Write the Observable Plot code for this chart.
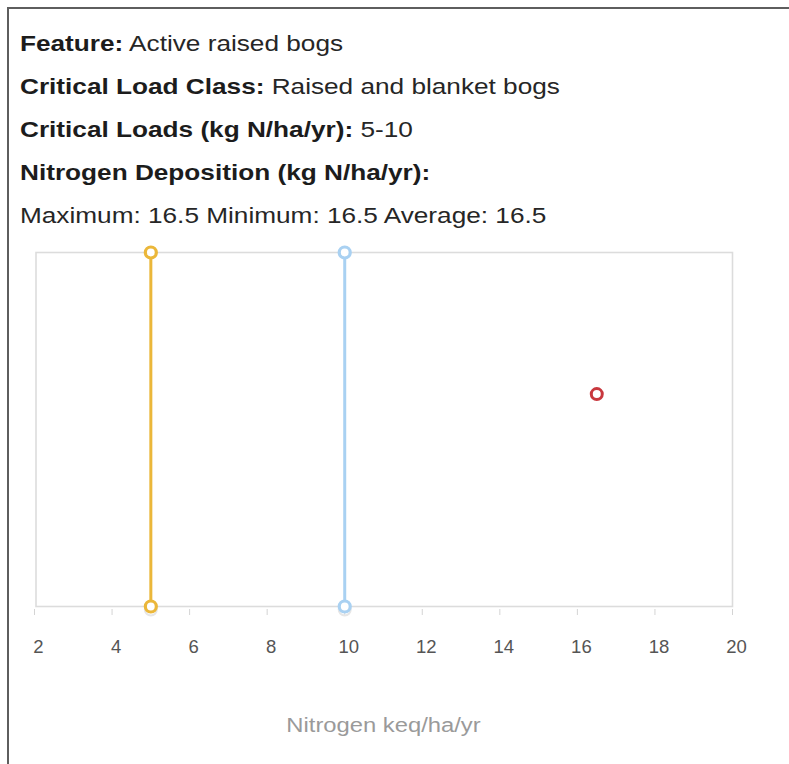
<!DOCTYPE html>
<html>
<head>
<meta charset="utf-8">
<script src="https://cdn.jsdelivr.net/npm/d3@7"></script>
<script src="https://cdn.jsdelivr.net/npm/@observablehq/plot@0.6"></script>
<style>
  html, body { margin: 0; padding: 0; background: #fff; overflow: hidden; width: 789px; height: 764px; }
  #frame { position: absolute; left: 7px; top: 7px; width: 900px; height: 900px; border: 2px solid #5e5e5e; box-sizing: border-box; }
  #info { position: absolute; left: 20px; top: 22px; font-family: "Liberation Sans", Arial, sans-serif; font-size: 22px; line-height: 43px; color: #262626; transform: scaleX(1.19); transform-origin: 0 0; white-space: nowrap; }
  #info b { color: #1c1c1c; }
  #chart { position: absolute; left: 0; top: 240px; }
</style>
</head>
<body>
<div id="frame"></div>
<div id="info"></div>
<div id="chart"></div>
<script>
// ---- data ----
const featureName = "Active raised bogs";
const loadClass = "Raised and blanket bogs";
const loadRange = "5-10";
const depositionStats = ["Maximum: 16.5", "Minimum: 16.5", "Average: 16.5"];
const criticalLoadNames = ["Minimum critical load", "Maximum critical load"];
const criticalLoads = [5, 10];
const depositionValues = [16.5];
const depositionLevel = [0.6];        // vertical placement of the deposition point (0–1)
const xTicks = [2, 4, 6, 8, 10, 12, 14, 16, 18, 20];
const xLabel = "Nitrogen keq/ha/yr";

// ---- header ----
document.getElementById("info").innerHTML =
  `<div><b>Feature:</b> ${featureName}</div>` +
  `<div><b>Critical Load Class:</b> ${loadClass}</div>` +
  `<div><b>Critical Loads (kg N/ha/yr):</b> ${loadRange}</div>` +
  `<div><b>Nitrogen Deposition (kg N/ha/yr):</b></div>` +
  `<div>${depositionStats.join(" ")}</div>`;

// ---- tables ----
const loads = criticalLoads.map((v, i) => ({name: criticalLoadNames[i], x: v}));
const loadEnds = loads.flatMap(d => [{...d, y: 0}, {...d, y: 1}]);
const deposition = depositionValues.map((v, i) => ({name: "Deposition", x: v, y: depositionLevel[i]}));

const colorScale = {
  domain: ["Minimum critical load", "Maximum critical load", "Deposition"],
  range: ["#ebb73a", "#a9d1f2", "#c8383e"]
};

const chart = Plot.plot({
  width: 789,
  height: 510,
  marginLeft: 34,
  marginRight: 57,
  marginTop: 12,
  marginBottom: 144,
  style: {fontFamily: "'Liberation Sans', Arial, sans-serif", background: "transparent"},
  x: {domain: [2, 20]},
  y: {domain: [0, 1], axis: null},
  color: colorScale,
  marks: [
    Plot.frame({stroke: "#dcdcdc", strokeWidth: 1.6, insetLeft: 1.5}),
    Plot.axisX({
      ticks: xTicks, tickSize: 6, tickPadding: 24, dy: 3, stroke: "#d4d4d4",
      fill: "#555", fontSize: 18.5, label: null, tickFormat: d => String(d)
    }),
    Plot.text([xLabel], {frameAnchor: "bottom", dy: 125, text: d => d, fill: "#9a9a9a", fontSize: 20, className: "xlabel"}),
    Plot.ruleX(loads, {x: "x", y1: 0, y2: 1, stroke: "name", strokeWidth: 3}),
    Plot.dot(loadEnds.filter(d => d.y === 0), {x: "x", y: "y", r: 6, dy: 3, stroke: "#e6e6e6", strokeWidth: 2, fill: "none"}),
    Plot.dot(loadEnds, {x: "x", y: "y", r: 5.5, stroke: "name", strokeWidth: 3.2, fill: "#fff"}),
    Plot.dot(deposition, {x: "x", y: "y", r: 5.5, stroke: "name", strokeWidth: 3, fill: "#fff"})
  ]
});
document.getElementById("chart").appendChild(chart);
// stretch axis title horizontally like the reference (keep Plot's own translate)
chart.querySelectorAll(".xlabel text").forEach(t => {
  const tr = t.getAttribute("transform") || "";
  t.setAttribute("transform", tr + " scale(1.19,1)");
});
// nudge tick labels right of their ticks
chart.querySelectorAll("[aria-label='x-axis tick label'] text").forEach(t => {
  t.setAttribute("dx", "4");
});
</script>
</body>
</html>
